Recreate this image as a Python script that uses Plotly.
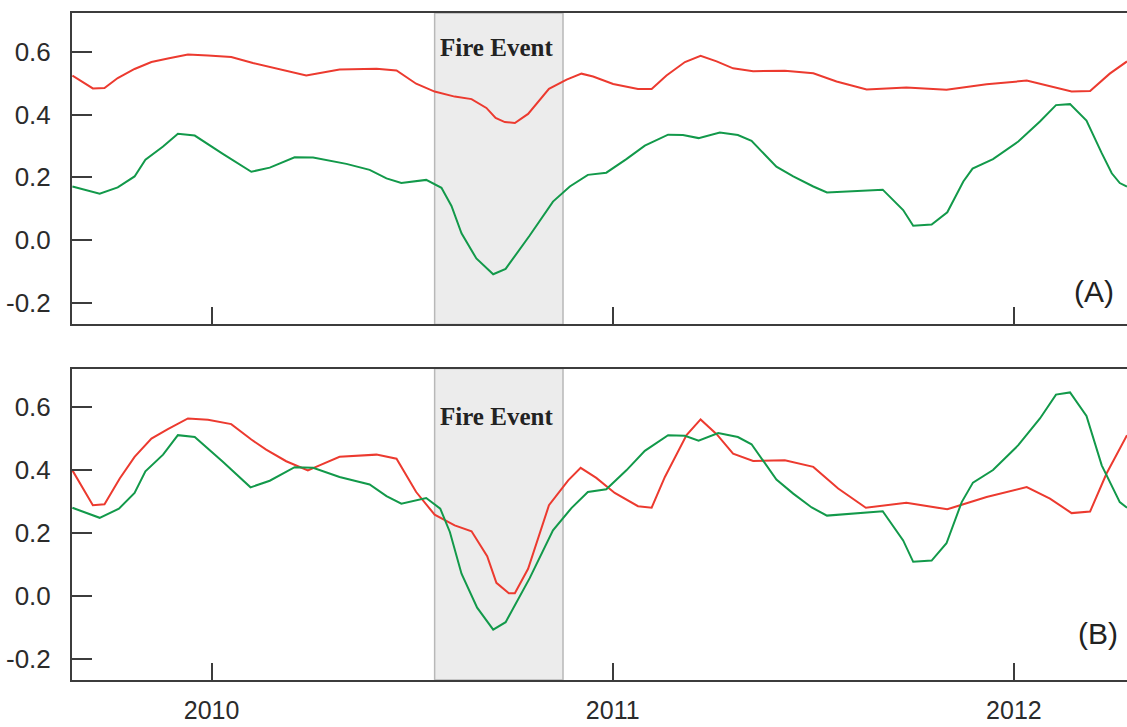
import plotly.graph_objects as go

# ---- data (decimal years, values) ----
A_red_x = [2009.653, 2009.704, 2009.733, 2009.766, 2009.808, 2009.850, 2009.891, 2009.941, 2009.991,
           2010.049, 2010.103, 2010.161, 2010.236, 2010.319, 2010.411, 2010.461, 2010.510, 2010.556,
           2010.606, 2010.648, 2010.685, 2010.708, 2010.731, 2010.756, 2010.789, 2010.841, 2010.885,
           2010.922, 2010.951, 2011.001, 2011.063, 2011.097, 2011.134, 2011.180, 2011.219, 2011.259,
           2011.300, 2011.350, 2011.429, 2011.500, 2011.558, 2011.633, 2011.732, 2011.832, 2011.932,
           2012.032, 2012.082, 2012.144, 2012.190, 2012.239, 2012.282]
A_red = [0.524, 0.483, 0.484, 0.516, 0.545, 0.567, 0.578, 0.591, 0.588, 0.583, 0.564, 0.546, 0.524,
         0.543, 0.546, 0.540, 0.498, 0.473, 0.457, 0.449, 0.421, 0.389, 0.376, 0.373, 0.402, 0.482,
         0.511, 0.530, 0.521, 0.497, 0.481, 0.481, 0.524, 0.567, 0.587, 0.569, 0.547, 0.538, 0.539,
         0.531, 0.505, 0.480, 0.486, 0.479, 0.496, 0.508, 0.493, 0.473, 0.475, 0.530, 0.569]

A_green_x = [2009.653, 2009.721, 2009.766, 2009.808, 2009.835, 2009.879, 2009.916, 2009.958, 2010.028,
             2010.099, 2010.145, 2010.207, 2010.253, 2010.336, 2010.394, 2010.436, 2010.473, 2010.535,
             2010.573, 2010.598, 2010.623, 2010.660, 2010.702, 2010.733, 2010.793, 2010.851, 2010.893,
             2010.938, 2010.984, 2011.034, 2011.080, 2011.138, 2011.175, 2011.214, 2011.267, 2011.312,
             2011.346, 2011.383, 2011.408, 2011.450, 2011.500, 2011.534, 2011.673, 2011.724, 2011.749,
             2011.795, 2011.834, 2011.874, 2011.897, 2011.948, 2012.011, 2012.065, 2012.105, 2012.140,
             2012.181, 2012.219, 2012.244, 2012.264, 2012.282]
A_green = [0.171, 0.148, 0.168, 0.203, 0.256, 0.298, 0.339, 0.333, 0.275, 0.218, 0.231, 0.264, 0.263,
           0.243, 0.224, 0.197, 0.182, 0.192, 0.167, 0.109, 0.022, -0.058, -0.108, -0.091, 0.015, 0.123,
           0.171, 0.208, 0.215, 0.258, 0.301, 0.336, 0.335, 0.325, 0.343, 0.335, 0.316, 0.266, 0.234,
           0.203, 0.171, 0.152, 0.161, 0.096, 0.046, 0.050, 0.089, 0.187, 0.228, 0.258, 0.314, 0.378,
           0.430, 0.433, 0.381, 0.277, 0.213, 0.182, 0.171]

B_red_x = [2009.653, 2009.704, 2009.733, 2009.771, 2009.808, 2009.850, 2009.891, 2009.941, 2009.991,
           2010.049, 2010.099, 2010.136, 2010.186, 2010.240, 2010.269, 2010.319, 2010.411, 2010.461,
           2010.510, 2010.556, 2010.606, 2010.648, 2010.687, 2010.710, 2010.741, 2010.756, 2010.789,
           2010.841, 2010.889, 2010.920, 2010.959, 2011.005, 2011.063, 2011.097, 2011.130, 2011.184,
           2011.219, 2011.259, 2011.300, 2011.350, 2011.429, 2011.500, 2011.562, 2011.631, 2011.732,
           2011.834, 2011.932, 2012.032, 2012.090, 2012.144, 2012.190, 2012.231, 2012.282]
B_red = [0.399, 0.288, 0.291, 0.373, 0.442, 0.500, 0.530, 0.564, 0.560, 0.546, 0.497, 0.465, 0.428,
         0.399, 0.415, 0.442, 0.449, 0.436, 0.330, 0.258, 0.224, 0.205, 0.126, 0.041, 0.008, 0.008,
         0.086, 0.288, 0.367, 0.407, 0.375, 0.327, 0.285, 0.280, 0.378, 0.511, 0.561, 0.514, 0.452,
         0.429, 0.431, 0.410, 0.341, 0.280, 0.296, 0.275, 0.314, 0.346, 0.309, 0.263, 0.268, 0.389, 0.511]

B_green_x = [2009.653, 2009.721, 2009.769, 2009.808, 2009.835, 2009.879, 2009.916, 2009.958, 2010.028,
             2010.097, 2010.145, 2010.207, 2010.253, 2010.319, 2010.394, 2010.436, 2010.473, 2010.535,
             2010.570, 2010.594, 2010.623, 2010.662, 2010.702, 2010.733, 2010.793, 2010.851, 2010.897,
             2010.938, 2010.984, 2011.034, 2011.080, 2011.138, 2011.180, 2011.214, 2011.263, 2011.312,
             2011.346, 2011.383, 2011.408, 2011.450, 2011.496, 2011.534, 2011.673, 2011.724, 2011.749,
             2011.795, 2011.832, 2011.870, 2011.898, 2011.948, 2012.011, 2012.065, 2012.105, 2012.140,
             2012.181, 2012.219, 2012.264, 2012.282]
B_green = [0.280, 0.248, 0.277, 0.327, 0.396, 0.449, 0.511, 0.505, 0.426, 0.345, 0.366, 0.409, 0.407,
           0.378, 0.354, 0.317, 0.293, 0.311, 0.277, 0.203, 0.070, -0.038, -0.108, -0.084, 0.056, 0.208,
           0.279, 0.330, 0.339, 0.399, 0.461, 0.511, 0.509, 0.493, 0.518, 0.505, 0.482, 0.415, 0.370,
           0.325, 0.281, 0.255, 0.269, 0.176, 0.108, 0.112, 0.167, 0.298, 0.360, 0.400, 0.479, 0.564,
           0.640, 0.647, 0.572, 0.415, 0.298, 0.280]

fire_event = [2010.556, 2010.876]
x_ticks = [2010, 2011, 2012]
x_tick_labels = ["2010", "2011", "2012"]
y_ticks = [-0.2, 0.0, 0.2, 0.4, 0.6]
y_tick_labels = ["-0.2", "0.0", "0.2", "0.4", "0.6"]
panel_labels = ["(A)", "(B)"]

RED = "#ec3a2f"
GREEN = "#12994a"
AXC = "#3c3c3c"
TXT = "#2b2b2b"

fig = go.Figure()
fig.add_trace(go.Scatter(x=A_red_x, y=A_red, mode="lines", line=dict(color=RED, width=2),
                         xaxis="x2", yaxis="y2", showlegend=False))
fig.add_trace(go.Scatter(x=A_green_x, y=A_green, mode="lines", line=dict(color=GREEN, width=2),
                         xaxis="x2", yaxis="y2", showlegend=False))
fig.add_trace(go.Scatter(x=B_red_x, y=B_red, mode="lines", line=dict(color=RED, width=2),
                         xaxis="x", yaxis="y", showlegend=False))
fig.add_trace(go.Scatter(x=B_green_x, y=B_green, mode="lines", line=dict(color=GREEN, width=2),
                         xaxis="x", yaxis="y", showlegend=False))

xcommon = dict(range=[2009.652, 2012.282], tickvals=x_ticks, ticktext=x_tick_labels,
               ticks="inside", ticklen=17, tickwidth=2, tickcolor=AXC,
               showline=True, linecolor=AXC, linewidth=2, mirror=True,
               showgrid=False, zeroline=False, automargin=False,
               tickfont=dict(family="Arial, Liberation Sans", size=25, color=TXT))
ycommon = dict(range=[-0.268, 0.723], tickvals=y_ticks, ticktext=y_tick_labels,
               ticks="inside", ticklen=20, tickwidth=2, tickcolor=AXC,
               showline=True, linecolor=AXC, linewidth=2, mirror=False,
               showgrid=False, zeroline=False, automargin=False,
               tickfont=dict(family="Arial, Liberation Sans", size=26, color=TXT))

fig.update_layout(
    width=1127, height=727,
    margin=dict(l=72, r=0, t=13, b=47),
    paper_bgcolor="white", plot_bgcolor="white",
    xaxis=dict(**xcommon, anchor="y", domain=[0, 1], ticklabelstandoff=7),
    xaxis2=dict(**xcommon, anchor="y2", domain=[0, 1], matches="x", showticklabels=False),
    yaxis=dict(**ycommon, anchor="x", domain=[0, 0.467], ticklabelstandoff=14),
    yaxis2=dict(**ycommon, anchor="x2", domain=[0.533, 1], ticklabelstandoff=14),
)

for yref in ["y domain", "y2 domain"]:
    fig.add_shape(type="rect", xref="x" if yref.startswith("y ") else "x2", yref=yref,
                  x0=fire_event[0], x1=fire_event[1], y0=0, y1=1,
                  fillcolor="#ececec", line=dict(color="#b8b8b8", width=1.5), layer="below")

fire_font = dict(family="Times New Roman, Liberation Serif", size=25, color="#222222")
fig.add_annotation(x=2010.710, y=0.613, xref="x2", yref="y2", text="<b>Fire Event</b>",
                   showarrow=False, font=fire_font)
fig.add_annotation(x=2010.710, y=0.571, xref="x", yref="y", text="<b>Fire Event</b>",
                   showarrow=False, font=fire_font)

lab_font = dict(family="Arial, Liberation Sans", size=30, color="#222222")
fig.add_annotation(x=2012.200, y=-0.162, xref="x2", yref="y2", text=panel_labels[0],
                   showarrow=False, font=lab_font)
fig.add_annotation(x=2012.209, y=-0.120, xref="x", yref="y", text=panel_labels[1],
                   showarrow=False, font=lab_font)

fig.write_html(
    "out.html",
    config={"displayModeBar": False},
    post_script="document.body.style.margin='0';document.body.style.overflow='hidden';",
)
